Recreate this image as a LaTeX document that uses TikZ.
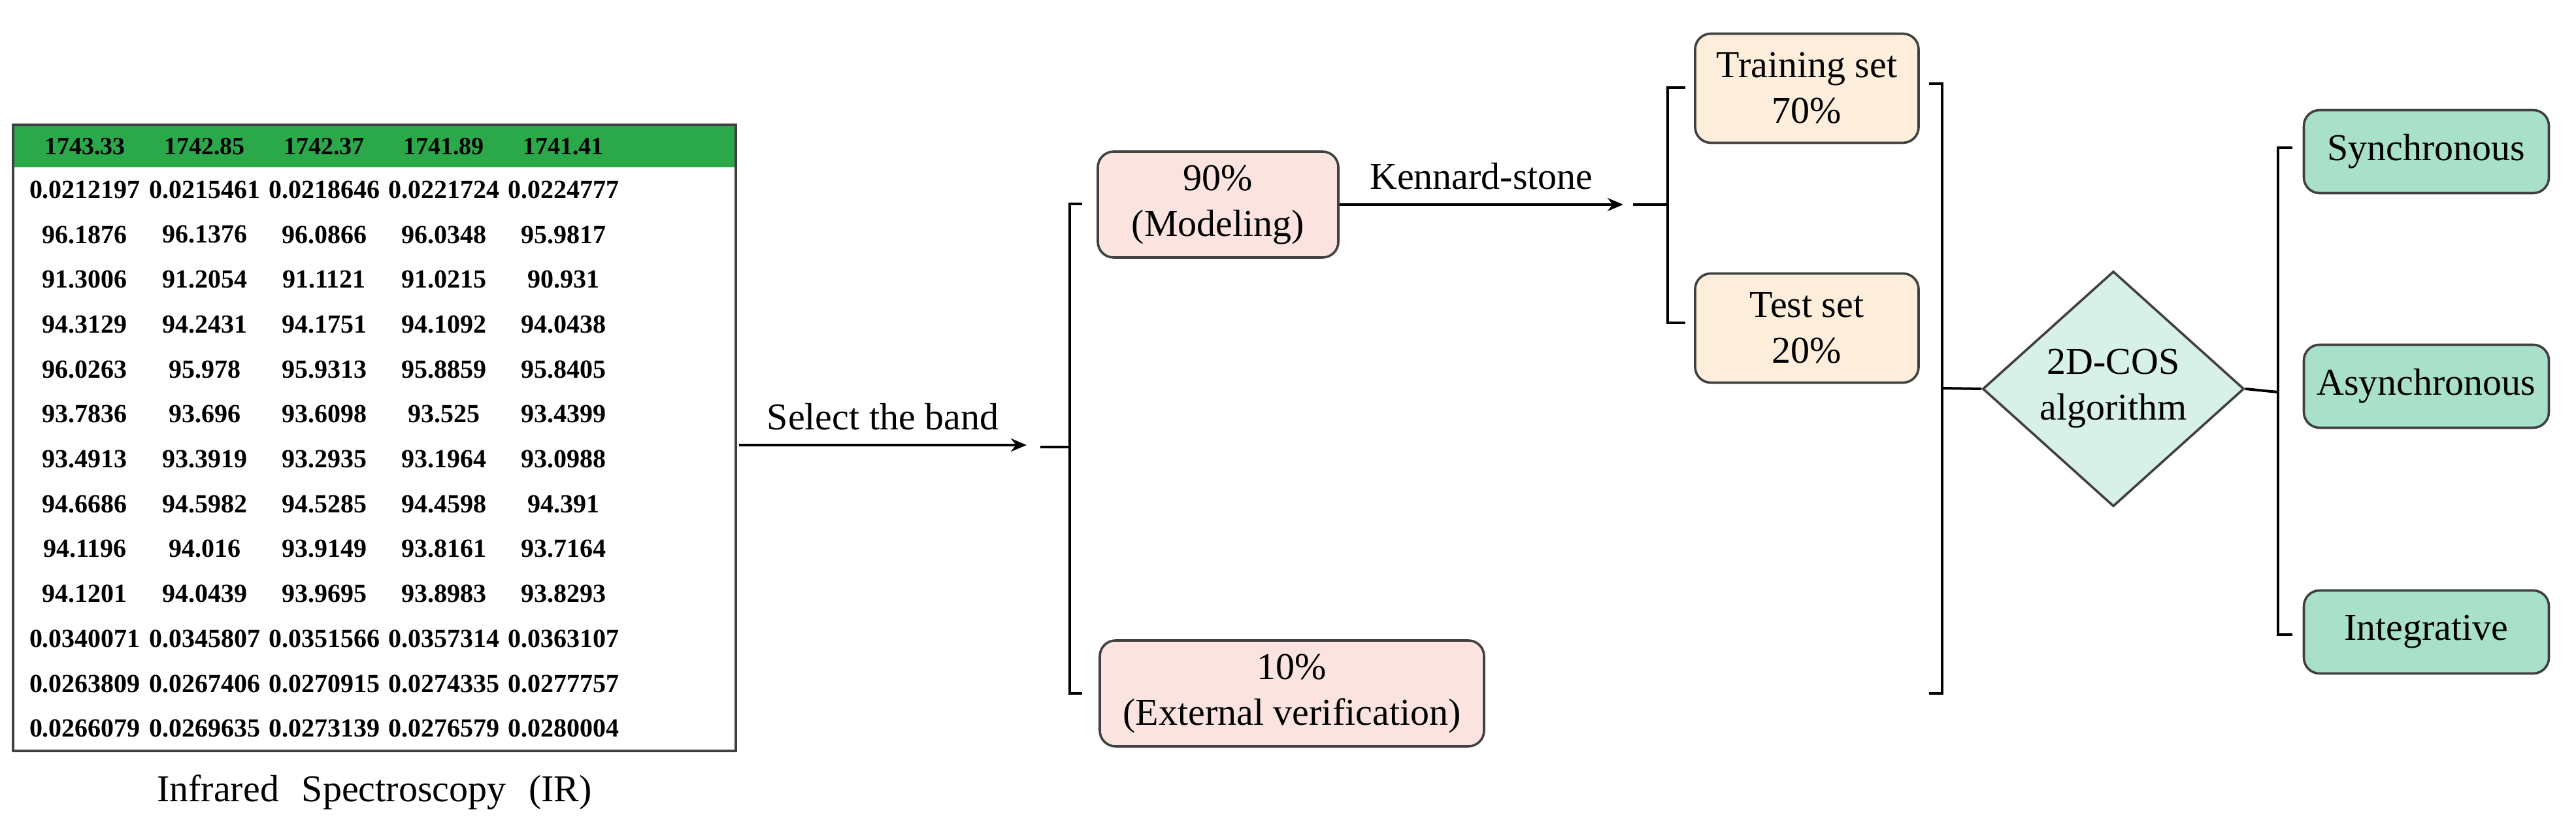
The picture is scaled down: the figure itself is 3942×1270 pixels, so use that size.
\documentclass[tikz,border=0pt]{standalone}
\usepackage{fontspec}
\setmainfont{Liberation Serif}
\usetikzlibrary{shapes.geometric,arrows.meta}
\definecolor{hdr}{HTML}{2BA84A}
\definecolor{pinkf}{HTML}{FBE4DF}
\definecolor{orgf}{HTML}{FDEEDB}
\definecolor{grnf}{HTML}{A9E0CA}
\definecolor{dmf}{HTML}{D8F1E8}
\definecolor{edge}{HTML}{404040}
\begin{document}
\begin{tikzpicture}[x=0.25pt,y=-0.25pt,
  box/.style={draw=edge,line width=0.9pt,rounded corners=6pt,align=center,font=\fontsize{14.5}{17.5}\selectfont,inner sep=0pt},
  ln/.style={line width=1pt,black},
  arr/.style={ln,-{Stealth[length=6pt,width=5pt]}},
  cell/.style={font=\bfseries\fontsize{10}{12}\selectfont,inner sep=0pt}]
\useasboundingbox (0,0) rectangle (3942,1270);
% table
\fill[hdr] (20,191) rectangle (1126,256);
\node[draw=edge,line width=1pt,minimum width=276.5pt,minimum height=239.5pt,inner sep=0pt] (tbl) at (573,670) {};
\foreach \v [count=\i] in {1743.33,1742.85,1742.37,1741.89,1741.41}
  \node[cell,font=\bfseries\fontsize{9.5}{12}\selectfont] (h\i) at ({130+183*(\i-1)},224) {\v};
\foreach \r [count=\j] in {
 {0.0212197,0.0215461,0.0218646,0.0221724,0.0224777},
 {96.1876,96.1376,96.0866,96.0348,95.9817},
 {91.3006,91.2054,91.1121,91.0215,90.931},
 {94.3129,94.2431,94.1751,94.1092,94.0438},
 {96.0263,95.978,95.9313,95.8859,95.8405},
 {93.7836,93.696,93.6098,93.525,93.4399},
 {93.4913,93.3919,93.2935,93.1964,93.0988},
 {94.6686,94.5982,94.5285,94.4598,94.391},
 {94.1196,94.016,93.9149,93.8161,93.7164},
 {94.1201,94.0439,93.9695,93.8983,93.8293},
 {0.0340071,0.0345807,0.0351566,0.0357314,0.0363107},
 {0.0263809,0.0267406,0.0270915,0.0274335,0.0277757},
 {0.0266079,0.0269635,0.0273139,0.0276579,0.0280004}}
  \foreach \v [count=\i] in \r
    \node[cell] (c\j-\i) at ({130+183*(\i-1)},{256+68.7*(\j-0.5)}) {\v};
\node[font=\fontsize{14.5}{18}\selectfont] (cap) at (573,1212) {Infrared\hspace{0.35em} Spectroscopy\hspace{0.35em} (IR)};
% boxes
\node[box,fill=pinkf,minimum width=92pt,minimum height=40.5pt] (m90) at (1864,313) {90\%\\(Modeling)};
\node[box,fill=pinkf,minimum width=147pt,minimum height=40.5pt] (m10) at (1977,1061) {10\%\\(External verification)};
\node[box,fill=orgf,minimum width=85.5pt,minimum height=41.75pt] (train) at (2765,135) {Training set\\70\%};
\node[box,fill=orgf,minimum width=85.5pt,minimum height=41.75pt] (test) at (2765,502) {Test set\\20\%};
\node[diamond,draw=edge,line width=0.9pt,fill=dmf,minimum width=100pt,minimum height=90pt,inner sep=0pt,align=center,font=\fontsize{14.5}{17.5}\selectfont] (dia) at (3234,595) {2D-COS\\algorithm};
\node[box,fill=grnf,minimum width=93.75pt,minimum height=31.75pt] (syn) at (3713,232) {Synchronous};
\node[box,fill=grnf,minimum width=93.75pt,minimum height=31.75pt] (asy) at (3713,591) {Asynchronous};
\node[box,fill=grnf,minimum width=93.75pt,minimum height=31.75pt] (int) at (3713,967) {Integrative};
% arrows
\coordinate (a1s) at (1131,681);
\coordinate (a1e) at (1571,681);
\draw[arr] (a1s) -- node[above=2pt,font=\fontsize{14.5}{18}\selectfont] (lsel) {Select the band} (a1e);
\coordinate (a2e) at (2484,313);
\draw[arr] (m90.east |- a2e) -- node[above=2pt,font=\fontsize{14.5}{18}\selectfont] (lks) {Kennard-stone} (a2e);
% bracket 1
\coordinate (b1s) at (1592,684);
\coordinate (b1m) at (1637,684);
\coordinate (b1t) at (1656,312);
\coordinate (b1b) at (1656,1061);
\draw[ln] (b1s) -- (b1m);
\draw[ln] (b1t) -| (b1m) |- (b1b);
% bracket 2
\coordinate (b2s) at (2499,313);
\coordinate (b2m) at (2552,313);
\coordinate (b2t) at (2579,134);
\coordinate (b2b) at (2579,494);
\draw[ln] (b2s) -- (b2m);
\draw[ln] (b2t) -| (b2m) |- (b2b);
% bracket 3
\coordinate (b3t) at (2952,128);
\coordinate (b3b) at (2952,1061);
\coordinate (b3m) at (2972,594);
\draw[ln] (b3t) -| (b3m) |- (b3b);
\draw[ln] (b3m) -- (dia.west);
% bracket 4
\coordinate (b4m) at (3486,600);
\coordinate (b4t) at (3508,226);
\coordinate (b4b) at (3508,971);
\draw[ln] (dia.east) -- (b4m);
\draw[ln] (b4t) -| (b4m) |- (b4b);
\end{tikzpicture}
\end{document}
